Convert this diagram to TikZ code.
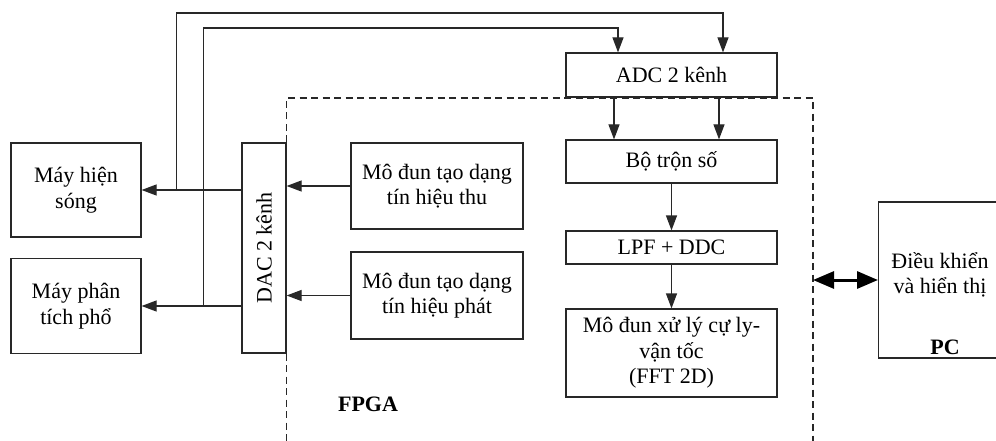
\documentclass[tikz,border=0pt]{standalone}
\usepackage{fontspec}
\setmainfont{Liberation Serif}
\usetikzlibrary{arrows.meta,positioning,calc}
\definecolor{mygrey}{RGB}{40,40,40}

\begin{document}
\begin{tikzpicture}[x=1pt, y=-1pt, font=\fontsize{22}{25.5}\selectfont,
    box/.style = {draw=mygrey, line width=1.2pt, fill=white, align=center, inner sep=0pt},
    arr/.style = {draw=mygrey, line width=1.2pt, -{Triangle[length=15pt,width=11pt]}},
    bus/.style = {draw=black, line width=3pt, {Triangle[length=21pt,width=17pt]}-{Triangle[length=21pt,width=17pt]}},
    frame/.style = {draw=mygrey, line width=1.2pt, dash pattern=on 7pt off 4.5pt}]
    \useasboundingbox (0,0) rectangle (996,441);

    % FPGA boundary
    \coordinate (fpgaNE) at (813,98);
    \coordinate (fpgaSE) at (813,441);

    \node[box, minimum width=130pt, minimum height=94pt] (osc) at (76,190) {Máy hiện\\sóng};
    \node[box, minimum width=130pt, minimum height=95pt] (spec) at (76,306) {Máy phân\\tích phổ};
    \node[box, minimum width=44pt, minimum height=210pt] (dac) at (264,248) {\rotatebox{90}{DAC 2 kênh}};
    \node[box, minimum width=172pt, minimum height=86pt] (rx) at (437,186) {Mô đun tạo dạng\\tín hiệu thu};
    \node[box, minimum width=172pt, minimum height=87pt] (tx) at (437,295.5) {Mô đun tạo dạng\\tín hiệu phát};
    \node[box, minimum width=211pt, minimum height=44pt] (adc) at (671.5,75) {ADC 2 kênh};
    \node[box, minimum width=211pt, minimum height=43pt] (mixer) at (671.5,161.5) {Bộ trộn số};
    \node[box, minimum width=211pt, minimum height=33pt] (lpf) at (671.5,247.5) {LPF + DDC};
    \node[box, minimum width=211pt, minimum height=88pt] (fft) at (671.5,353) {Mô đun xử lý cự ly-\\vận tốc\\(FFT 2D)};
    \node[box, minimum width=140pt, minimum height=156pt, anchor=west] (pc) at (878,280) {};
    \node[align=center] (pctext) at (940,275) {Điều khiển\\và hiển thị};
    \node[font=\fontsize{22}{25.5}\selectfont\bfseries] (pclabel) at (945,347) {PC};
    \node[font=\fontsize{22}{25.5}\selectfont\bfseries] (fpgalabel) at (368,404) {FPGA};

    \draw[frame] (dac.north east) |- (fpgaNE) -- (fpgaSE);
    \draw[frame] (dac.south east) -- (dac.south east |- fpgaSE);

    \draw[arr] (dac.west |- osc) -- (osc.east);
    \draw[arr] (dac.west |- spec) -- (spec.east);
    \draw[arr] (rx.west) -- (rx.west -| dac.east);
    \draw[arr] (tx.west) -- (tx.west -| dac.east);

    \draw[arr] ($(osc.east)+(35,0)$) -- ++(0,-177) -| ($(adc.north)+(51.5,0)$);
    \draw[arr] ($(spec.east)+(62,0)$) -- ++(0,-278) -| ($(adc.north)+(-53.5,0)$);

    \draw[arr] ($(adc.south)+(-57.5,0)$) -- ($(mixer.north)+(-57.5,0)$);
    \draw[arr] ($(adc.south)+(47.5,0)$) -- ($(mixer.north)+(47.5,0)$);
    \draw[arr] (mixer) -- (lpf);
    \draw[arr] (lpf) -- (fft);

    \draw[bus] (fpgaNE |- pc.west) -- (pc.west);
\end{tikzpicture}
\end{document}
